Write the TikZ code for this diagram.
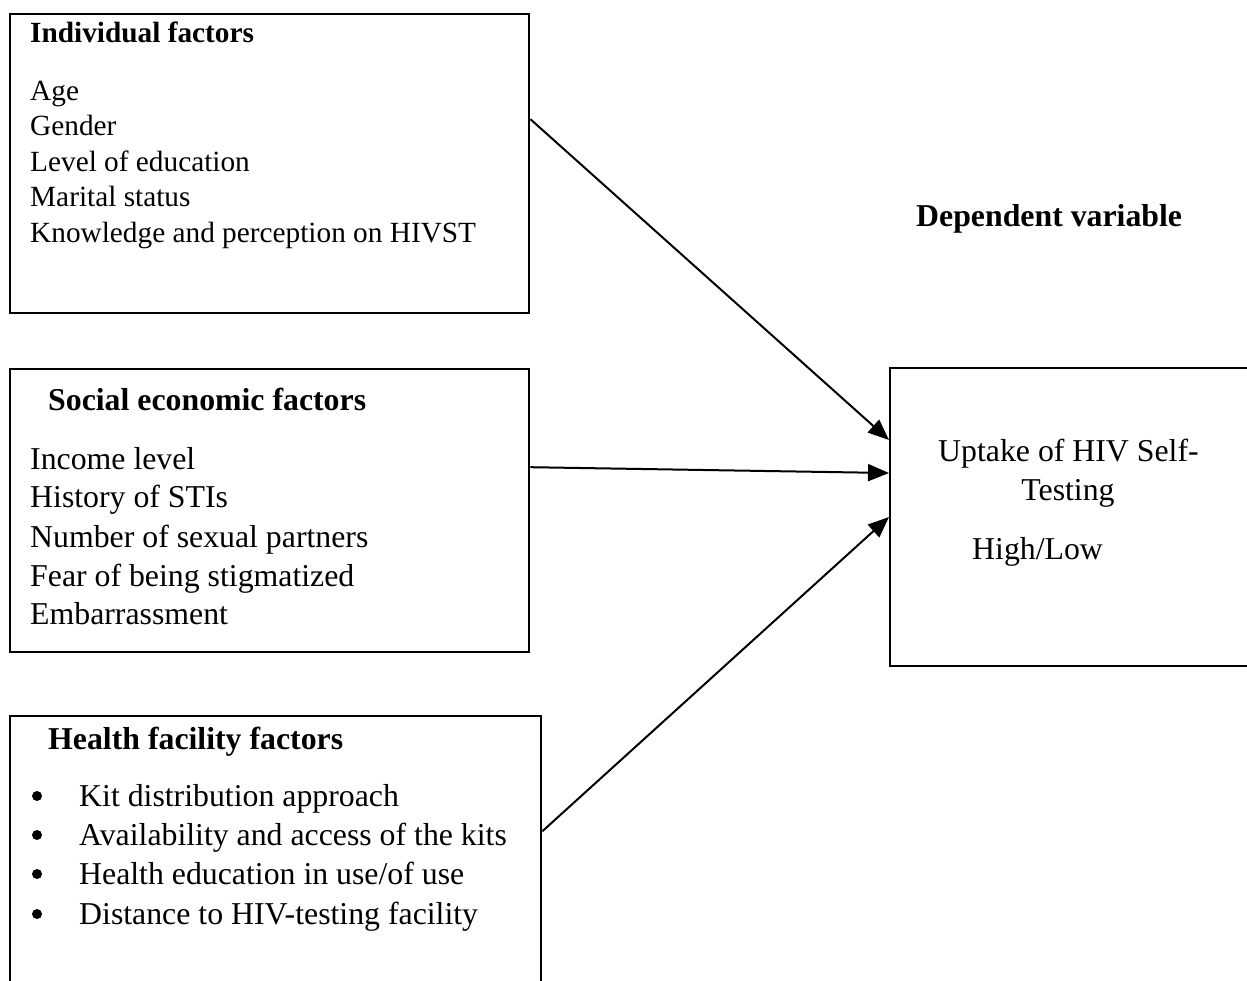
\documentclass[tikz,border=0pt]{standalone}
\usepackage{fontspec}
\setmainfont{Liberation Serif}
\usetikzlibrary{arrows.meta}
\begin{document}
\begin{tikzpicture}[x=1pt,y=-1pt,
  box/.style={draw, line width=2.4pt, anchor=north west, inner sep=0pt},
  txtA/.style={anchor=base west, inner sep=0pt, font=\fontsize{29.3}{33}\selectfont},
  headA/.style={txtA, font=\fontsize{29.3}{33}\selectfont\bfseries},
  txt/.style={anchor=base west, inner sep=0pt, font=\fontsize{31.8}{36}\selectfont},
  head/.style={txt, font=\fontsize{31.8}{36}\selectfont\bfseries},
  dot/.style={circle, fill, inner sep=0pt, minimum size=10pt},
  arr/.style={line width=2pt, -{Triangle[length=21pt,width=17pt]}}]
\useasboundingbox (0,0) rectangle (1247,981);
\clip (0,0) rectangle (1247,981);
\node[box, minimum width=519pt, minimum height=299pt] (ind) at (9,13) {};
\node[box, minimum width=519pt, minimum height=283pt] (soc) at (9,368) {};
\node[box, minimum width=531pt, minimum height=300pt] (hea) at (9,715) {};
\node[box, minimum width=380pt, minimum height=298pt] (dep) at (889,367) {};
\node[headA] (h1) at (30,43) {Individual factors};
\node[txtA] (i1) at (30,101) {Age};
\node[txtA] (i2) at (30,136) {Gender};
\node[txtA] (i3) at (30,172) {Level of education};
\node[txtA] (i4) at (30,207) {Marital status};
\node[txtA] (i5) at (30,243) {Knowledge and perception on HIVST};
\node[head] (dv) at (916,227) {Dependent variable};
\node[head] (h2) at (48,410) {Social economic factors};
\node[txt] (s1) at (30,469) {Income level};
\node[txt] (s2) at (30,507) {History of STIs};
\node[txt] (s3) at (30,547) {Number of sexual partners};
\node[txt] (s4) at (30,586) {Fear of being stigmatized};
\node[txt] (s5) at (30,624) {Embarrassment};
\node[head] (h3) at (48,749) {Health facility factors};
\node[dot] (b1) at (37,796) {};
\node[dot] (b2) at (37,835) {};
\node[dot] (b3) at (37,874) {};
\node[dot] (b4) at (37,914) {};
\node[txt] (f1) at (79,806) {Kit distribution approach};
\node[txt] (f2) at (79,845) {Availability and access of the kits};
\node[txt] (f3) at (79,884) {Health education in use/of use};
\node[txt] (f4) at (79,924) {Distance to HIV-testing facility};
\node[txt] (u1) at (938,461) {Uptake of HIV Self-};
\node[txt, anchor=base] (u2) at (1068,500) {Testing};
\node[txt] (u3) at (972,559) {High/Low};
\coordinate (a1) at ([yshift=44.5pt]ind.east);
\coordinate (a2) at ([yshift=43.5pt]soc.east);
\coordinate (a3) at ([yshift=35pt]hea.east);
\draw[arr] (a1) -- ([yshift=-73pt]dep.north west);
\draw[arr] (a2) -- ([yshift=-106pt]dep.north west);
\draw[arr] (a3) -- ([yshift=-150pt]dep.north west);
\end{tikzpicture}
\end{document}
